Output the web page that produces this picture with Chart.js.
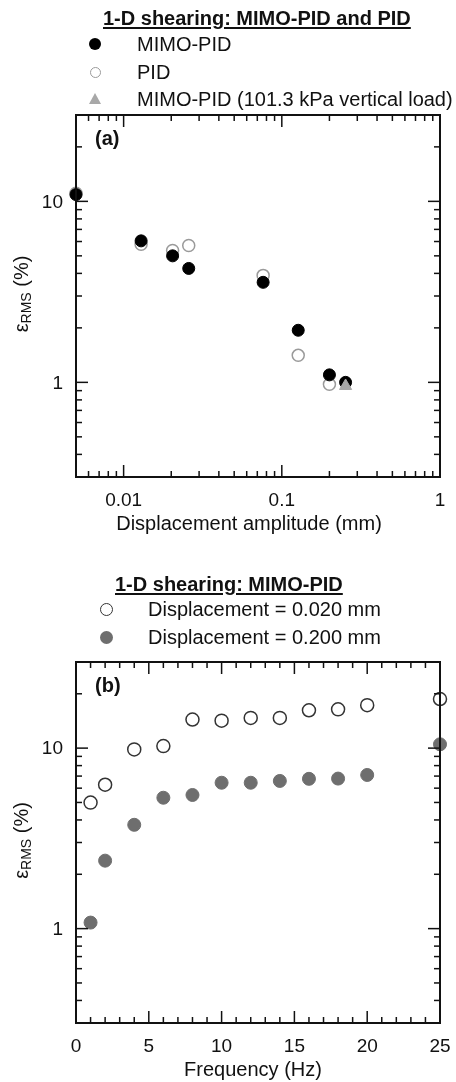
<!DOCTYPE html>
<html lang="en">
<head>
<meta charset="UTF-8" />
<title>1-D shearing: MIMO-PID and PID</title>
<script src="https://cdn.jsdelivr.net/npm/chart.js"></script>
<style>
    body { margin: 0; background: #fff; }
    #page { position: relative; width: 456px; height: 1082px; font-family: "Liberation Sans", Arial, sans-serif; color: #111; }
    canvas { position: absolute; left: 0; }
    .ttl { position: absolute; font-weight: bold; font-size: 20px; line-height: 24px; text-decoration: underline; text-decoration-thickness: 2px; text-underline-offset: 2px; white-space: nowrap; }
    .row { position: absolute; left: 0; width: 456px; height: 24px; font-size: 20px; line-height: 24px; white-space: nowrap; }
    .row .tx { position: absolute; top: 0; }
    .mk { position: absolute; box-sizing: border-box; border-radius: 50%; }
    .tri { position: absolute; width: 0; height: 0; border-left: 6px solid transparent; border-right: 6px solid transparent; border-bottom: 11px solid #a8a8a8; }
</style>
</head>
<body>
<div id="page">
    <canvas id="chartA" width="456" height="540" style="top:0"></canvas>
    <canvas id="chartB" width="456" height="542" style="top:540px"></canvas>

    <!-- legend panel (a) -->
    <div class="ttl" style="left:103px; top:6px">1-D shearing: MIMO-PID and PID</div>
    <div class="row" style="top:32px"><span class="mk" style="left:89px; top:6px; width:12px; height:12px; background:#000"></span><span class="tx" style="left:137px">MIMO-PID</span></div>
    <div class="row" style="top:60px"><span class="mk" style="left:90px; top:7px; width:11px; height:11px; border:1.5px solid #9a9a9a"></span><span class="tx" style="left:137px">PID</span></div>
    <div class="row" style="top:87px"><span class="tri" style="left:89px; top:6px"></span><span class="tx" style="left:137px">MIMO-PID (101.3 kPa vertical load)</span></div>

    <!-- legend panel (b) -->
    <div class="ttl" style="left:115px; top:572px">1-D shearing: MIMO-PID</div>
    <div class="row" style="top:597px"><span class="mk" style="left:100px; top:6px; width:13px; height:13px; border:1.5px solid #333"></span><span class="tx" style="left:148px">Displacement = 0.020 mm</span></div>
    <div class="row" style="top:625px"><span class="mk" style="left:100px; top:6px; width:13px; height:13px; background:#6e6e6e"></span><span class="tx" style="left:148px">Displacement = 0.200 mm</span></div>
</div>

<script>
    // panel (a): error vs displacement amplitude
    const dispMimo = [0.005, 0.0129, 0.0204, 0.0258, 0.0762, 0.127, 0.2, 0.253];
    const errMimo = [10.9, 6.05, 5.0, 4.26, 3.57, 1.94, 1.1, 1.0];
    const dispPid = [0.005, 0.0129, 0.0204, 0.0258, 0.0762, 0.127, 0.2];
    const errPid = [11.1, 5.8, 5.35, 5.7, 3.9, 1.41, 0.975];
    const dispLoad = [0.253];
    const errLoad = [0.955];

    // panel (b): error vs frequency
    const freqHz = [1, 2, 4, 6, 8, 10, 12, 14, 16, 18, 20, 25];
    const err020 = [4.99, 6.27, 9.84, 10.26, 14.4, 14.2, 14.7, 14.7, 16.2, 16.4, 17.3, 18.7];
    const err200 = [1.08, 2.38, 3.76, 5.31, 5.5, 6.43, 6.43, 6.58, 6.76, 6.78, 7.1, 10.5];

    // ticks
    const xMajorA = [0.01, 0.1, 1];
    const xLabelA = ["0.01", "0.1", "1"];
    const xMinorA = [0.006, 0.007, 0.008, 0.009, 0.02, 0.03, 0.04, 0.05, 0.06, 0.07, 0.08, 0.09,
        0.2, 0.3, 0.4, 0.5, 0.6, 0.7, 0.8, 0.9];
    const xMajorB = [0, 5, 10, 15, 20, 25];
    const xLabelB = ["0", "5", "10", "15", "20", "25"];
    const xMinorB = [1, 2, 3, 4, 6, 7, 8, 9, 11, 12, 13, 14, 16, 17, 18, 19, 21, 22, 23, 24];
    const yMajor = [1, 10];
    const yLabel = ["1", "10"];
    const yMinor = [0.4, 0.5, 0.6, 0.7, 0.8, 0.9, 2, 3, 4, 5, 6, 7, 8, 9, 20];

    const FONT = '"Liberation Sans", Arial, sans-serif';

    function toPts(xs, ys) {
        return xs.map((x, i) => ({ x: x, y: ys[i] }));
    }

    // frame with inward ticks on all four sides, labels and titles
    const framePlugin = {
        id: "frame",
        afterDraw(chart, args, o) {
            const ctx = chart.ctx;
            const a = chart.chartArea;
            const x = chart.scales.x, y = chart.scales.y;
            ctx.save();
            ctx.strokeStyle = "#111";
            ctx.fillStyle = "#111";

            function seg(x1, y1, x2, y2) {
                ctx.beginPath();
                ctx.moveTo(x1, y1);
                ctx.lineTo(x2, y2);
                ctx.stroke();
            }

            ctx.lineWidth = 1.5;
            o.xMajor.forEach(v => {
                const p = x.getPixelForValue(v);
                seg(p, a.bottom, p, a.bottom - 12);
                seg(p, a.top, p, a.top + 12);
            });
            o.xMinor.forEach(v => {
                const p = x.getPixelForValue(v);
                seg(p, a.bottom, p, a.bottom - 6);
                seg(p, a.top, p, a.top + 6);
            });
            o.yMajor.forEach(v => {
                const p = y.getPixelForValue(v);
                seg(a.left, p, a.left + 12, p);
                seg(a.right, p, a.right - 12, p);
            });
            o.yMinor.forEach(v => {
                const p = y.getPixelForValue(v);
                seg(a.left, p, a.left + 6, p);
                seg(a.right, p, a.right - 6, p);
            });

            ctx.lineWidth = 2;
            ctx.strokeRect(a.left, a.top, a.right - a.left, a.bottom - a.top);

            // tick labels
            ctx.font = "19px " + FONT;
            ctx.textBaseline = "middle";
            ctx.textAlign = "center";
            o.xMajor.forEach((v, i) => {
                ctx.fillText(o.xLabel[i], x.getPixelForValue(v), a.bottom + 24);
            });
            ctx.textAlign = "right";
            o.yMajor.forEach((v, i) => {
                ctx.fillText(o.yLabel[i], a.left - 13, y.getPixelForValue(v) + 1);
            });

            // x title
            ctx.font = "20px " + FONT;
            ctx.textAlign = "center";
            ctx.fillText(o.xTitle, o.xTitleX, a.bottom + 47);

            // panel letter
            ctx.font = "bold 20px " + FONT;
            ctx.textAlign = "left";
            ctx.fillText(o.letter, a.left + 19, a.top + 24);

            // y title: epsilon with RMS subscript
            ctx.translate(22, (a.top + a.bottom) / 2 - 2);
            ctx.rotate(-Math.PI / 2);
            const big = "20px " + FONT, small = "14px " + FONT;
            ctx.font = big;
            const w1 = ctx.measureText("\u03b5").width;
            const w3 = ctx.measureText(" (%)").width;
            ctx.font = small;
            const w2 = ctx.measureText("RMS").width;
            let cx = -(w1 + w2 + w3) / 2;
            ctx.textAlign = "left";
            ctx.font = big;
            ctx.fillText("\u03b5", cx, 0);
            cx += w1;
            ctx.font = small;
            ctx.fillText("RMS", cx, 5);
            cx += w2;
            ctx.font = big;
            ctx.fillText(" (%)", cx, 0);
            ctx.restore();
        }
    };

    new Chart(document.getElementById("chartA"), {
        type: "scatter",
        data: {
            datasets: [
                {
                    label: "MIMO-PID (101.3 kPa vertical load)",
                    data: toPts(dispLoad, errLoad),
                    pointStyle: "triangle",
                    pointRadius: 7,
                    backgroundColor: "#a8a8a8",
                    borderColor: "#a8a8a8",
                    borderWidth: 1,
                    clip: false
                },
                {
                    label: "MIMO-PID",
                    data: toPts(dispMimo, errMimo),
                    pointStyle: "circle",
                    pointRadius: 6,
                    backgroundColor: "#000",
                    borderColor: "#000",
                    borderWidth: 1,
                    clip: false
                },
                {
                    label: "PID",
                    data: toPts(dispPid, errPid),
                    pointStyle: "circle",
                    pointRadius: 6,
                    backgroundColor: "rgba(255,255,255,0)",
                    borderColor: "#9a9a9a",
                    borderWidth: 1.5,
                    clip: false
                }
            ]
        },
        options: {
            responsive: false,
            animation: false,
            layout: { padding: { left: 76, right: 16, top: 115, bottom: 63 } },
            scales: {
                x: { type: "logarithmic", min: 0.005, max: 1, display: false },
                y: { type: "logarithmic", min: 0.3, max: 30, display: false }
            },
            plugins: {
                legend: { display: false },
                tooltip: { enabled: false },
                frame: {
                    xMajor: xMajorA, xMinor: xMinorA, xLabel: xLabelA,
                    yMajor: yMajor, yMinor: yMinor, yLabel: yLabel,
                    xTitle: "Displacement amplitude (mm)", xTitleX: 249,
                    letter: "(a)"
                }
            }
        },
        plugins: [framePlugin]
    });

    new Chart(document.getElementById("chartB"), {
        type: "scatter",
        data: {
            datasets: [
                {
                    label: "Displacement = 0.020 mm",
                    data: toPts(freqHz, err020),
                    pointStyle: "circle",
                    pointRadius: 6.5,
                    backgroundColor: "rgba(255,255,255,0)",
                    borderColor: "#333",
                    borderWidth: 1.5,
                    clip: false
                },
                {
                    label: "Displacement = 0.200 mm",
                    data: toPts(freqHz, err200),
                    pointStyle: "circle",
                    pointRadius: 6.5,
                    backgroundColor: "#6e6e6e",
                    borderColor: "#6e6e6e",
                    borderWidth: 1,
                    clip: false
                }
            ]
        },
        options: {
            responsive: false,
            animation: false,
            layout: { padding: { left: 76, right: 16, top: 122, bottom: 59 } },
            scales: {
                x: { type: "linear", min: 0, max: 25, display: false },
                y: { type: "logarithmic", min: 0.3, max: 30, display: false }
            },
            plugins: {
                legend: { display: false },
                tooltip: { enabled: false },
                frame: {
                    xMajor: xMajorB, xMinor: xMinorB, xLabel: xLabelB,
                    yMajor: yMajor, yMinor: yMinor, yLabel: yLabel,
                    xTitle: "Frequency (Hz)", xTitleX: 253,
                    letter: "(b)"
                }
            }
        },
        plugins: [framePlugin]
    });
</script>
</body>
</html>
